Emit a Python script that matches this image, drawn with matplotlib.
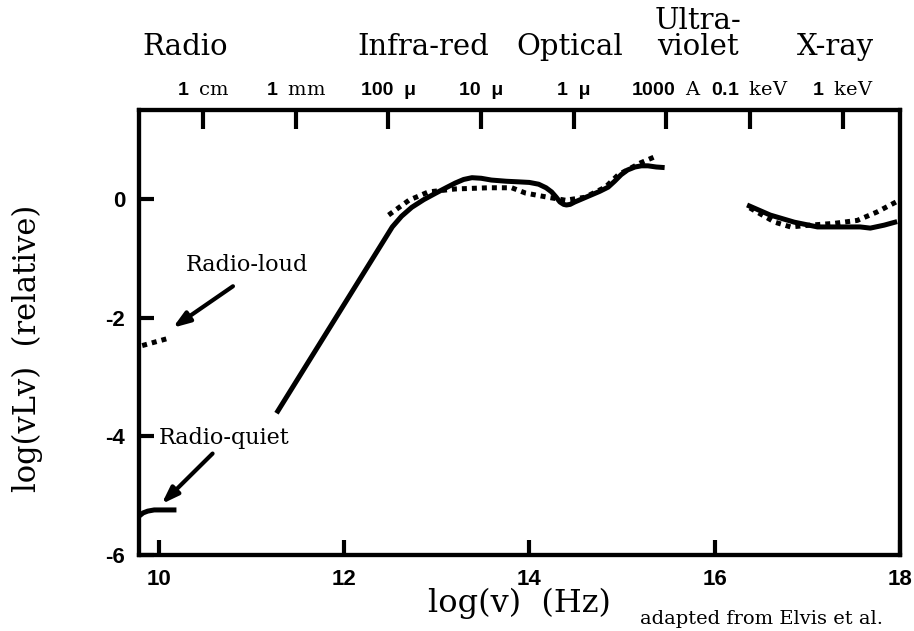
import matplotlib
matplotlib.use("Agg")
import matplotlib.pyplot as plt
import matplotlib.transforms as mtransforms

plt.rcParams['mathtext.fontset'] = 'custom'
plt.rcParams['mathtext.rm'] = 'DejaVu Serif'

serif = 'DejaVu Serif'
sans = 'Liberation Sans'

# main continuum (solid)
main_x = [11.27, 12.52, 12.62, 12.73, 12.86, 12.99, 13.10, 13.20, 13.29, 13.38, 13.48,
          13.59, 13.75, 13.88, 14.00, 14.10, 14.18, 14.24, 14.29, 14.33, 14.37, 14.40,
          14.44, 14.49, 14.58, 14.67, 14.76, 14.85, 14.92, 14.99, 15.06, 15.14, 15.21,
          15.28, 15.37, 15.46]
main_y = [-3.61, -0.47, -0.29, -0.14, -0.01, 0.10, 0.19, 0.27, 0.33, 0.36, 0.35,
          0.32, 0.30, 0.29, 0.28, 0.25, 0.19, 0.12, 0.03, -0.05, -0.09, -0.10,
          -0.09, -0.05, 0.01, 0.07, 0.13, 0.20, 0.30, 0.41, 0.49, 0.54, 0.56,
          0.56, 0.54, 0.53]

# radio-loud IR/optical (dotted)
loud_x = [12.48, 12.70, 12.91, 13.20, 13.56, 13.81, 13.96, 14.20, 14.39, 14.60, 14.82,
          14.96, 15.20, 15.35]
loud_y = [-0.27, -0.02, 0.12, 0.17, 0.19, 0.19, 0.10, 0.03, -0.02, 0.03, 0.20,
          0.41, 0.61, 0.71]

# radio pieces
rq_x = [9.79, 9.83, 9.88, 9.95, 10.05, 10.19]
rq_y = [-5.34, -5.29, -5.26, -5.24, -5.24, -5.24]
rl_x = [9.82, 10.12]
rl_y = [-2.47, -2.34]

# X-ray
xq_x = [16.35, 16.60, 16.86, 17.11, 17.40, 17.57, 17.68, 17.83, 17.97]
xq_y = [-0.10, -0.27, -0.39, -0.47, -0.47, -0.47, -0.49, -0.44, -0.38]
xl_x = [16.38, 16.65, 16.82, 17.03, 17.29, 17.54, 17.75, 17.97]
xl_y = [-0.15, -0.39, -0.47, -0.44, -0.41, -0.36, -0.22, -0.04]

# top axis: wavelength / energy marks
top_pos = [10.477, 11.477, 12.477, 13.477, 14.477, 15.477, 16.383, 17.383]
top_lab = [r"1  $\mathrm{cm}$", r"1  $\mathrm{mm}$", "100  μ", "10  μ", "1  μ",
           r"1000  $\mathrm{A}$", r"0.1  $\mathrm{keV}$", r"1  $\mathrm{keV}$"]

bands = ["Radio", "Infra-red", "Optical", "violet", "X-ray"]
band_x = [10.28, 12.85, 14.44, 15.82, 17.30]

fig = plt.figure(figsize=(9.14, 6.31), dpi=100)
ax = fig.add_axes([0.152, 0.1204, 0.8326, 0.7052])

lw = 3.6
for xs, ys in [(main_x, main_y), (rq_x, rq_y), (xq_x, xq_y)]:
    ax.plot(xs, ys, color='black', lw=lw, solid_capstyle='butt', solid_joinstyle='round')
for xs, ys in [(loud_x, loud_y), (rl_x, rl_y), (xl_x, xl_y)]:
    ax.plot(xs, ys, color='black', lw=lw, linestyle=(0, (1, 1)), dash_capstyle='butt')

ax.set_xlim(9.785, 17.98)
ax.set_ylim(-6, 1.5)
ax.set_xticks([10, 12, 14, 16, 18])
ax.set_yticks([-6, -4, -2, 0])
ax.set_xticklabels(["10", "12", "14", "16", "18"])
ax.set_yticklabels(["-6", "-4", "-2", "0"])
for s in ax.spines.values():
    s.set_linewidth(3)
ax.tick_params(axis='both', direction='in', length=11, width=3, labelsize=16)
ax.tick_params(axis='x', pad=10)
ax.tick_params(axis='y', pad=10)
for lab in ax.get_xticklabels() + ax.get_yticklabels():
    lab.set_family(sans)
    lab.set_weight('bold')

top = ax.twiny()
top.set_xlim(ax.get_xlim())
top.set_xticks(top_pos)
top.set_xticklabels(top_lab)
top.tick_params(axis='x', direction='in', length=14, width=3, labelsize=14, pad=8)
for lab in top.get_xticklabels():
    lab.set_family(sans)
    lab.set_weight('bold')
for s in top.spines.values():
    s.set_linewidth(3)

trans = mtransforms.blended_transform_factory(ax.transData, ax.transAxes)
for name, bx in zip(bands, band_x):
    ax.text(bx, 1.142, name, transform=trans, ha='center', va='center',
            fontsize=21, family=serif)
ax.text(band_x[3], 1.200, "Ultra-", transform=trans, ha='center', va='center',
        fontsize=21, family=serif)

ax.set_xlabel("log(v)  (Hz)", fontsize=23, family=serif)
ax.xaxis.set_label_coords(0.50, -0.074)
ax.set_ylabel("log(vLv)  (relative)", fontsize=22, family=serif)
ax.yaxis.set_label_coords(-0.126, 0.465)

arrow = dict(arrowstyle='-|>,head_length=1.0,head_width=0.35', lw=3, color='black',
             shrinkA=0, shrinkB=0)
ax.annotate("", xy=(10.15, -2.17), xytext=(10.80, -1.47), arrowprops=arrow)
ax.annotate("", xy=(10.03, -5.14), xytext=(10.58, -4.29), arrowprops=arrow)
ax.text(10.95, -1.12, "Radio-loud", fontsize=16, family=serif, ha='center', va='center')
ax.text(10.71, -4.03, "Radio-quiet", fontsize=16, family=serif, ha='center', va='center')

fig.text(0.70, 0.004, "adapted from Elvis et al.", fontsize=14, family=serif,
         ha='left', va='bottom')

fig.savefig("out.png", dpi=100)
